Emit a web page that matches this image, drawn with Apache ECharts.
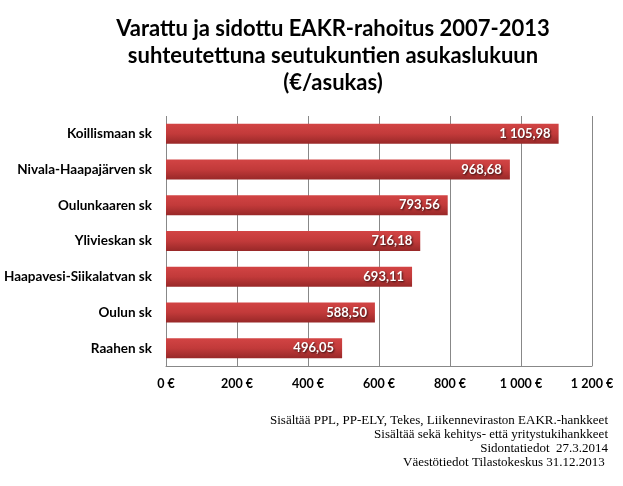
<!DOCTYPE html>
<html><head><meta charset="utf-8">
<script src="https://cdn.jsdelivr.net/npm/echarts@6/dist/echarts.min.js"></script>
<style>html,body{margin:0;padding:0;background:#fff}#c{width:623px;height:486px}</style>
</head><body><div id="c"></div>
<script>
const categories = ["Koillismaan sk","Nivala-Haapajärven sk","Oulunkaaren sk","Ylivieskan sk","Haapavesi-Siikalatvan sk","Oulun sk","Raahen sk"];
const values = [1105.98, 968.68, 793.56, 716.18, 693.11, 588.50, 496.05];
const titleLines = ["Varattu ja sidottu EAKR-rahoitus 2007-2013","suhteutettuna seutukuntien asukaslukuun","(€/asukas)"];
const notes = ["Sisältää PPL, PP-ELY, Tekes, Liikenneviraston EAKR.-hankkeet","Sisältää sekä kehitys- että yritystukihankkeet","Sidontatiedot  27.3.2014","Väestötiedot Tilastokeskus 31.12.2013 "];

function fmt(v, dec){
  const s = v.toFixed(dec);
  const parts = s.split('.');
  const intp = parts[0].replace(/\B(?=(\d{3})+(?!\d))/g, '\u00a0');
  return parts.length > 1 ? intp + ',' + parts[1] : intp;
}

const chart = echarts.init(document.getElementById('c'), null, {renderer:'canvas'});
const sans = 'Lato, "Open Sans", sans-serif';
chart.setOption({
  animation:false,
  backgroundColor:'#fff',
  grid:{left:166,right:31,top:116,bottom:120,containLabel:false},
  xAxis:{type:'value',min:0,max:1200,interval:200,
    axisLine:{show:true,lineStyle:{color:'#888',width:1}},
    axisTick:{show:false},
    splitLine:{show:true,lineStyle:{color:'#888',width:1}},
    axisLabel:{formatter:v=>fmt(v,0)+' €',fontFamily:sans,fontWeight:'bold',fontSize:12.5,color:'#000',margin:11}
  },
  yAxis:{type:'category',data:categories.slice().reverse(),
    axisLine:{show:false},axisTick:{show:false},
    axisLabel:{fontFamily:sans,fontWeight:'bold',fontSize:13.5,color:'#000',margin:14}
  },
  series:[{type:'bar',data:values.slice().reverse(),barWidth:20,
    itemStyle:{color:new echarts.graphic.LinearGradient(0,0,0,1,[{offset:0,color:'#d24444'},{offset:0.5,color:'#c23a3a'},{offset:1,color:'#982828'}])},
    label:{show:true,position:'insideRight',distance:8,formatter:p=>fmt(p.value,2),
      fontFamily:sans,fontWeight:'bold',fontSize:13,color:'#fff',
      textShadowColor:'rgba(0,0,0,0.7)',textShadowBlur:2,textShadowOffsetX:1,textShadowOffsetY:1}
  }],
  graphic:[
    ...titleLines.map((t,i)=>({type:'text',x:333,y:29+i*27,style:{text:t,x:0,y:0,align:'center',verticalAlign:'middle',font:'bold 22px '+sans,fill:'#000'}})),
    ...notes.map((t,i)=>({type:'text',x:608,y:421+i*14,style:{text:t,align:'right',verticalAlign:'middle',font:'13px "Liberation Serif", "DejaVu Serif", serif',fill:'#000'}}))
  ]
});
</script></body></html>
